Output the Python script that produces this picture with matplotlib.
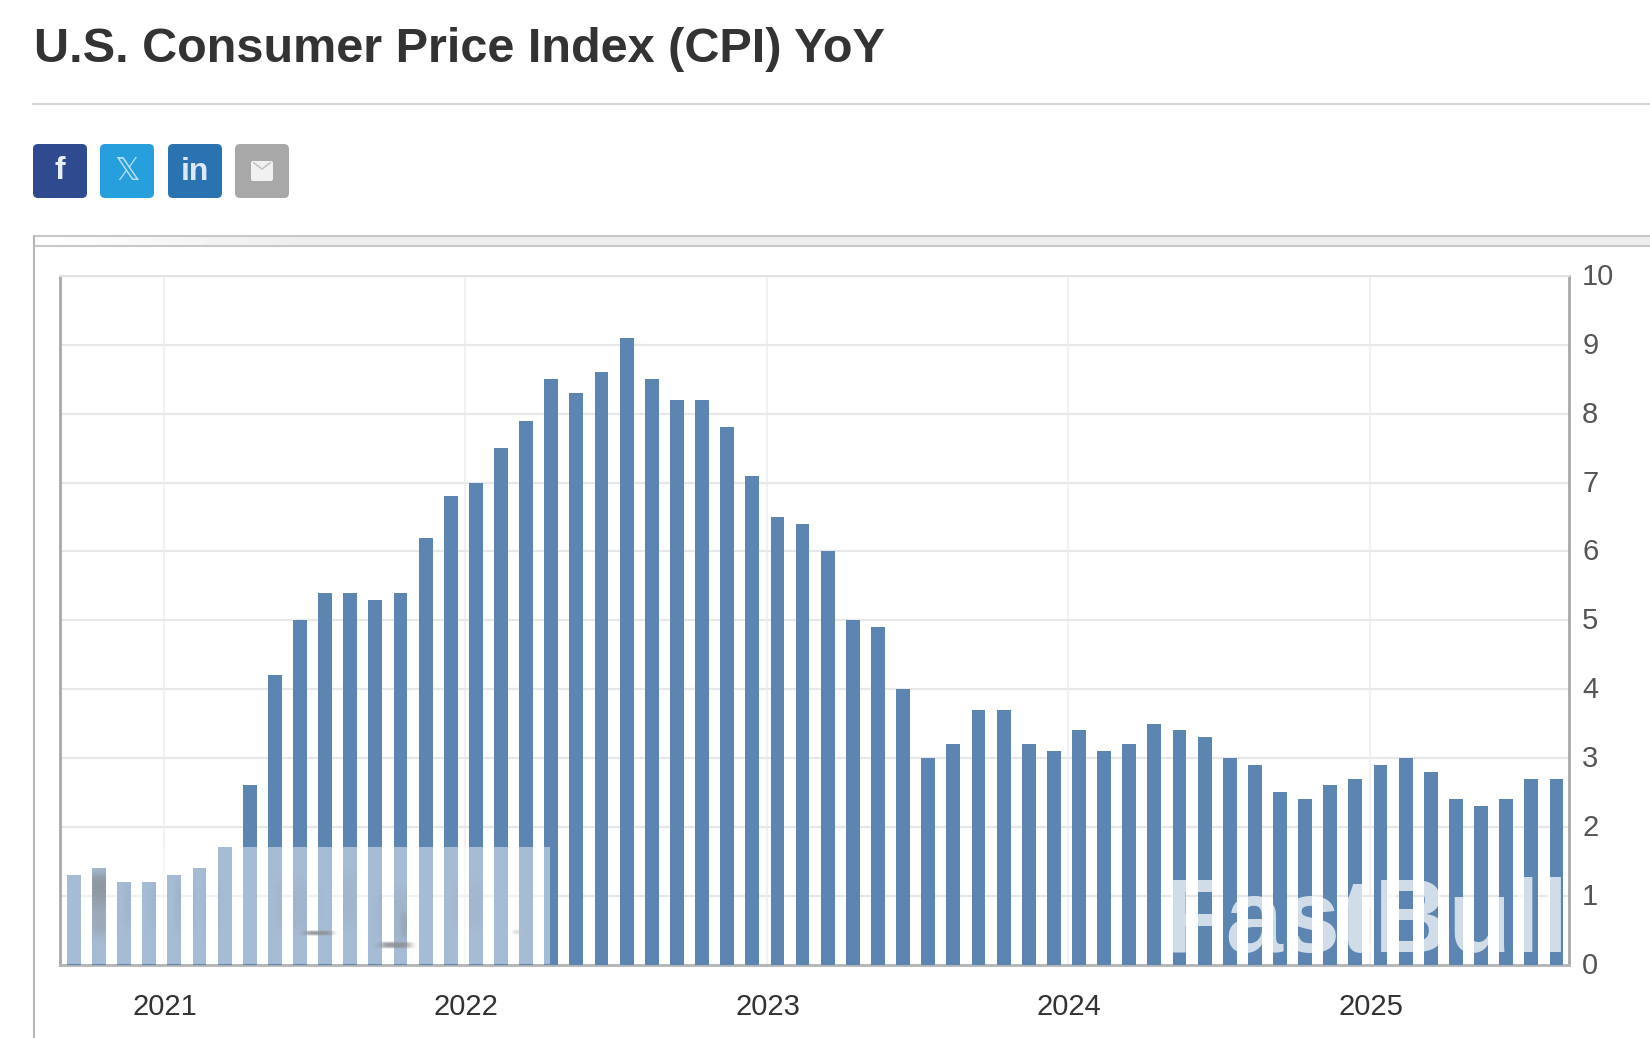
import numpy as np
import matplotlib
matplotlib.use('Agg')
import matplotlib.pyplot as plt
from matplotlib.patches import FancyBboxPatch, Rectangle
from matplotlib.path import Path
from matplotlib.transforms import ScaledTranslation, IdentityTransform

# CPI YoY, monthly, Aug 2020 - Jul 2025
months = ['2020-%02d' % m for m in range(8, 13)] + \
         ['%d-%02d' % (y, m) for y in range(2021, 2025) for m in range(1, 13)] + \
         ['2025-%02d' % m for m in range(1, 8)]
cpi = [1.3, 1.4, 1.2, 1.2, 1.3, 1.4, 1.7, 2.6, 4.2, 5.0, 5.4, 5.4, 5.3, 5.4, 6.2,
       6.8, 7.0, 7.5, 7.9, 8.5, 8.3, 8.6, 9.1, 8.5, 8.2, 8.2, 7.8, 7.1, 6.5, 6.4,
       6.0, 5.0, 4.9, 4.0, 3.0, 3.2, 3.7, 3.7, 3.2, 3.1, 3.4, 3.1, 3.2, 3.5, 3.4,
       3.3, 3.0, 2.9, 2.5, 2.4, 2.6, 2.7, 2.9, 3.0, 2.8, 2.4, 2.3, 2.4, 2.7, 2.7]
years = ['2021', '2022', '2023', '2024', '2025']
y_ticks = list(range(0, 11))
title = 'U.S. Consumer Price Index (CPI) YoY'

plt.rcParams['font.family'] = ['Liberation Sans', 'DejaVu Sans']

W, H = 1650, 1038
fig = plt.figure(figsize=(W / 100, H / 100), dpi=100, facecolor='white')

# page furniture, in pixel coordinates
bg = fig.add_axes([0, 0, 1, 1])
bg.axis('off')

bg.text(34, 50, title, fontsize=35, fontweight='bold', color='#333333', va='center')
bg.plot([33, W], [104, 104], color='#d9d9d9', lw=1.6)

icons = [(33, '#2f4a8f'), (100, '#279fdc'), (168, '#2b72b0'), (235, '#a8a8a8')]
for x, c in icons:
    bg.add_patch(FancyBboxPatch((x, 144), 54, 54, boxstyle='round,pad=0,rounding_size=5', fc=c, ec='none'))
bg.text(60, 171, 'f', color='#e8eef8', fontsize=23, fontweight='bold', ha='center', va='center')
bg.text(127, 172, '𝕏', color='#b5def5', fontsize=23, ha='center', va='center', family='DejaVu Sans')
bg.text(195, 172, 'in', color='#dbe9f5', fontsize=23, fontweight='bold', ha='center', va='center')
bg.add_patch(FancyBboxPatch((251, 161), 22, 20, boxstyle='round,pad=0,rounding_size=2', fc='#f1f1f1', ec='none'))
bg.plot([254, 262, 270], [163, 169, 163], color='#c4c4c4', lw=1.2)

# panel frame, the band fades in from the left
band = np.clip(np.linspace(0, 6, 200), 0, 1).reshape(1, -1)
bg.imshow(1 - 0.07 * band, extent=(34, W, 246, 236), cmap='gray', vmin=0, vmax=1, aspect='auto')
bg.plot([34, W], [236, 236], color='#c8c8c8', lw=1.5)
bg.plot([34, W], [246, 246], color='#c8c8c8', lw=1.5)
bg.plot([34, 34], [236, H], color='#b8b8b8', lw=1.5)
bg.set_xlim(0, W)
bg.set_ylim(H, 0)

# chart
ax = fig.add_axes([60 / W, 1 - 964.5 / H, (1569 - 60) / W, (964.5 - 276) / H])
ax.set_facecolor('none')
bars = ax.bar(range(len(cpi)), cpi, width=0.55, color='#5c85b2', zorder=3)
ax.set_xlim(-0.55, len(cpi) - 0.5)
ax.set_ylim(0, 10)

# year gridlines sit between Nov/Dec bars
x_ticks = [months.index(y + '-01') - 1.43 for y in years]
ax.set_xticks(x_ticks, years)
ax.set_yticks(y_ticks)
ax.yaxis.tick_right()
ax.grid(axis='y', color='#e8e8e8', lw=1.6, zorder=0)
ax.grid(axis='x', color='#f1f1f1', lw=1.4, zorder=0)
ax.tick_params(axis='x', length=0, labelsize=21, labelcolor='#333333', pad=20.5)
ax.tick_params(axis='y', length=0, labelsize=21, labelcolor='#555555', pad=9.5)
for s, c, lw in [('left', '#a8a8a8', 2), ('right', '#a8a8a8', 2), ('bottom', '#b4b4b4', 2), ('top', '#e2e2e2', 1.5)]:
    ax.spines[s].set_color(c)
    ax.spines[s].set_linewidth(lw)
# tick labels sit a little above their gridlines / right of them in the original
for lab in ax.get_yticklabels():
    lab.set_transform(lab.get_transform() + ScaledTranslation(0, 2 / 100, fig.dpi_scale_trans))
for lab in ax.get_xticklabels():
    lab.set_transform(lab.get_transform() + ScaledTranslation(1 / 100, 0, fig.dpi_scale_trans))

# overlays on top of the chart, pixel coordinates again
top = fig.add_axes([0, 0, 1, 1])
top.axis('off')
top.add_patch(Rectangle((66, 847), 484, 117, fc='white', ec='none', alpha=0.46))

# the scan dirt only shows on the bars
fig.canvas.draw()
bar_paths = Path.make_compound_path(*[b.get_path().transformed(b.get_transform()) for b in bars])


def smudge(x, y, w, h, color, alpha, on_bars=True):
    yy, xx = np.mgrid[-1:1:40j, -1:1:40j]
    img = np.zeros((40, 40, 4))
    img[..., :3] = matplotlib.colors.to_rgb(color)
    img[..., 3] = alpha * np.exp(-(xx ** 4 + yy ** 4) * 3)
    im = top.imshow(img, extent=(x - w, x + w, y + h, y - h), aspect='auto', interpolation='bilinear')
    if on_bars:
        im.set_clip_path(bar_paths, IdentityTransform())


for blob in [(100, 890, 16, 24, '#2f3c4c', 0.95), (100, 915, 14, 30, '#40536a', 0.7),
             (131, 905, 12, 34, '#3f5f86', 0.3), (157, 905, 12, 34, '#3f5f86', 0.25),
             (185, 905, 14, 38, '#3f5f86', 0.4), (212, 905, 13, 38, '#3f5f86', 0.3),
             (296, 905, 30, 36, '#3f5f86', 0.35), (345, 900, 18, 36, '#3f5f86', 0.3),
             (395, 915, 24, 36, '#3f5f86', 0.45), (408, 925, 10, 18, '#2f3c4c', 0.45),
             (470, 905, 24, 34, '#3f5f86', 0.25)]:
    smudge(*blob)
for blob in [(518, 932, 7, 3, '#7d8a99', 0.5), (318, 933, 20, 3, '#30323a', 0.9),
             (395, 945, 22, 4, '#30323a', 0.9)]:
    smudge(*blob, on_bars=False)

top.text(1163, 952, 'FastBull', fontsize=74, fontweight='bold', color='white', alpha=0.72,
         ha='left', va='baseline')
top.set_xlim(0, W)
top.set_ylim(H, 0)

fig.savefig('out.png', dpi=100)
